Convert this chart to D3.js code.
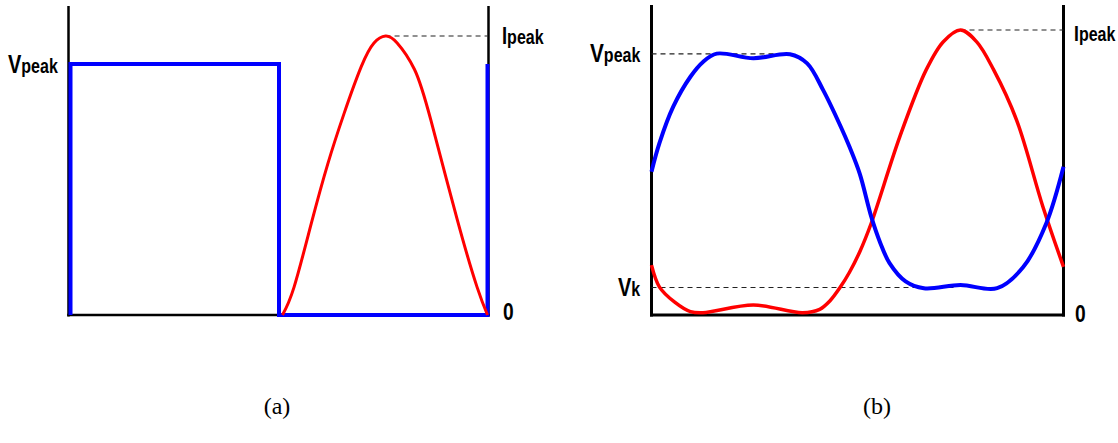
<!DOCTYPE html>
<html>
<head>
<meta charset="utf-8">
<script src="https://cdn.jsdelivr.net/npm/d3@7"></script>
<style>
  html, body { margin: 0; padding: 0; background: #fff; }
  svg { display: block; }
  .lbl { font-family: "Liberation Sans", Arial, sans-serif; font-weight: bold; fill: #000; }
  .cap { font-family: "Liberation Serif", "Times New Roman", serif; fill: #000; }
</style>
</head>
<body>
<svg id="chart" width="1118" height="443"></svg>
<script>
// ---- Panel (a): square-wave drain voltage and half-sine drain current ----
// phase in degrees over one RF period, amplitude normalised to Ipeak = 1
const squareTheta = [0, 0, 180, 180, 360, 360];
const squareV     = [0, 0.9, 0.9, 0, 0, 0.9];

const pulseTheta = [183, 193, 208, 222, 236, 251, 262, 272, 282, 297, 311, 334, 351, 360];
const pulseI     = [0, 0.10, 0.33, 0.54, 0.72, 0.89, 0.975, 1.0, 0.975, 0.88, 0.70, 0.34, 0.10, 0];

const levelsA = { iPeak: 1.0, iPeakFrom: 272 };

// ---- Panel (b): harmonically shaped voltage and current ----
const voltTheta = [0, 7, 19, 34, 45, 57, 89, 121, 136, 150, 165, 173, 182, 192, 200, 208, 222, 238, 270, 302, 325, 345, 360];
const voltV     = [0.503, 0.604, 0.731, 0.836, 0.888, 0.917, 0.901, 0.915, 0.883, 0.789, 0.664, 0.590, 0.495, 0.345, 0.252, 0.182, 0.118, 0.094, 0.105, 0.094, 0.169, 0.322, 0.52];

const currTheta = [0, 7, 20, 34, 45, 89, 132, 147, 156, 165, 173, 182, 192, 217, 240, 255, 270, 284, 299, 319, 342, 360];
const currI     = [0.175, 0.098, 0.046, 0.012, 0.008, 0.035, 0.008, 0.020, 0.050, 0.098, 0.150, 0.222, 0.322, 0.626, 0.860, 0.959, 1.0, 0.959, 0.860, 0.684, 0.380, 0.169];

const levelsB = { vPeak: 0.916, vPeakTo: 121, vK: 0.0965, vKTo: 266, iPeak: 1.0, iPeakFrom: 270 };

const captions = ["(a)", "(b)"];

const svg = d3.select("#chart");
const BLUE = "#0000ff", RED = "#ff0000";

function toPts(xs, ys) { return xs.map((x, i) => [x, ys[i]]); }

function frame(g, x, y, topPx, sw) {
  const x0 = x(0), x1 = x(360), yb = y(0);
  g.append("line").attr("x1", x0).attr("x2", x0).attr("y1", topPx).attr("y2", yb + 1.5)
    .attr("stroke", "#000").attr("stroke-width", sw);
  g.append("line").attr("x1", x1).attr("x2", x1).attr("y1", topPx).attr("y2", yb + 1.5)
    .attr("stroke", "#000").attr("stroke-width", sw);
  g.append("line").attr("x1", x0 - sw / 2).attr("x2", x1 + sw / 2).attr("y1", yb).attr("y2", yb)
    .attr("stroke", "#000").attr("stroke-width", sw);
}

function dashed(g, x, y, t0, t1, v) {
  g.append("line").attr("x1", x(t0)).attr("x2", x(t1)).attr("y1", y(v)).attr("y2", y(v))
    .attr("stroke", "#222").attr("stroke-width", 1.2).attr("stroke-dasharray", "5,4");
}

// condensed bold label: large symbol followed by a smaller suffix on the same baseline
function label(g, px, py, big, small, bigSize, smallSize) {
  const t = g.append("text").attr("class", "lbl")
    .attr("transform", `translate(${px},${py}) scale(0.8,1)`);
  t.append("tspan").attr("font-size", bigSize).text(big);
  if (small) t.append("tspan").attr("font-size", smallSize).text(small);
}

// ---------- Panel (a) ----------
{
  const g = svg.append("g");
  const x = d3.scaleLinear().domain([0, 360]).range([70.5, 487.5]);
  const y = d3.scaleLinear().domain([0, 1]).range([315, 36]);
  const axX = d3.scaleLinear().domain([0, 360]).range([68.5, 488.5]);

  frame(g, axX, y, 6, 2.5);
  dashed(g, x, y, levelsA.iPeakFrom, 360, levelsA.iPeak);

  const lin = d3.line().x(d => x(d[0])).y(d => y(d[1]));
  g.append("path").datum(toPts(squareTheta, squareV))
    .attr("d", lin).attr("fill", "none").attr("stroke", BLUE)
    .attr("stroke-width", 4).attr("stroke-linejoin", "miter");

  const smooth = d3.line().x(d => x(d[0])).y(d => y(d[1])).curve(d3.curveNatural);
  g.append("path").datum(toPts(pulseTheta, pulseI))
    .attr("d", smooth).attr("fill", "none").attr("stroke", RED).attr("stroke-width", 3);

  label(g, 8, 73, "V", "peak", 25, 20);
  label(g, 502, 44, "I", "peak", 23, 20);
  label(g, 503, 320, "0", null, 24, 0);

  svg.append("text").attr("class", "cap").attr("x", 277).attr("y", 414)
    .attr("text-anchor", "middle").attr("font-size", 24).text(captions[0]);
}

// ---------- Panel (b) ----------
{
  const g = svg.append("g");
  const x = d3.scaleLinear().domain([0, 360]).range([651.5, 1063.5]);
  const y = d3.scaleLinear().domain([0, 1]).range([315, 30]);

  frame(g, x, y, 5, 3);
  dashed(g, x, y, 0, levelsB.vPeakTo, levelsB.vPeak);
  dashed(g, x, y, 0, levelsB.vKTo, levelsB.vK);
  dashed(g, x, y, levelsB.iPeakFrom, 360, levelsB.iPeak);

  const smooth = d3.line().x(d => x(d[0])).y(d => y(d[1])).curve(d3.curveCatmullRom.alpha(0.5));
  g.append("path").datum(toPts(currTheta, currI))
    .attr("d", smooth).attr("fill", "none").attr("stroke", RED).attr("stroke-width", 3.5);
  g.append("path").datum(toPts(voltTheta, voltV))
    .attr("d", smooth).attr("fill", "none").attr("stroke", BLUE).attr("stroke-width", 4);

  label(g, 590, 62, "V", "peak", 26, 20);
  label(g, 618, 296, "V", "k", 25, 20);
  label(g, 1074, 41, "I", "peak", 22, 20);
  label(g, 1075, 322, "0", null, 24, 0);

  svg.append("text").attr("class", "cap").attr("x", 877).attr("y", 414)
    .attr("text-anchor", "middle").attr("font-size", 24).text(captions[1]);
}
</script>
</body>
</html>
